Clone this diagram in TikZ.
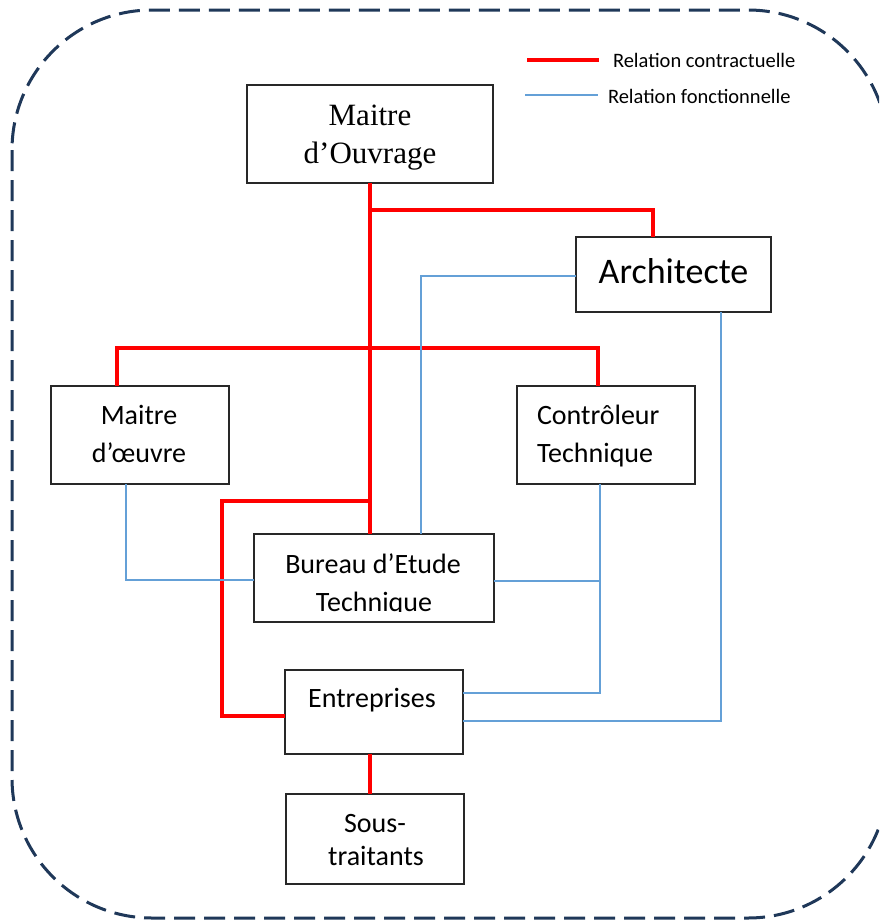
\documentclass[tikz,border=0pt]{standalone}
\usepackage{fontspec}
\setmainfont{Carlito}
\newfontfamily\serifmo{Liberation Serif}
\usetikzlibrary{calc}
\definecolor{navyb}{RGB}{31,56,89}
\definecolor{funcblue}{RGB}{100,160,215}
\definecolor{boxline}{RGB}{40,40,40}
\begin{document}
\begin{tikzpicture}[x=1pt,y=-1pt,
  box/.style={draw=boxline,line width=1.4pt,fill=white,inner sep=0pt,outer sep=0pt},
  contract/.style={draw=red,line width=4pt},
  func/.style={draw=funcblue,line width=1.2pt},
  txt/.style={inner sep=0pt,outer sep=0pt,font=\fontsize{28}{34}\selectfont},
  legtxt/.style={inner sep=0pt,outer sep=0pt,font=\fontsize{20.5}{24}\selectfont}]
\clip (0,0) rectangle (879,921);
\fill[white] (0,0) rectangle (879,921);
% border
\draw[navyb,line width=3pt,dash pattern=on 21pt off 9pt,rounded corners=140pt] (12,10) rectangle (888,918);

% coordinates for connectors
\coordinate (j1) at (370,210);
\coordinate (a1) at (653,210);
\coordinate (h1) at (117,348);
\coordinate (h2) at (598,348);
\coordinate (e0) at (370,501);
\coordinate (e1) at (222,501);
\coordinate (e2) at (222,716);
\coordinate (b1) at (126,580);
\coordinate (b2) at (421,276);
\coordinate (b3) at (600,581);
\coordinate (b4) at (600,693);
\coordinate (b5) at (721,721);

% boxes
\node[box,minimum width=246pt,minimum height=98pt] (mo) at (370,134) {};
\node[box,minimum width=195pt,minimum height=75pt] (arch) at (673.5,274.5) {};
\node[box,minimum width=178pt,minimum height=98pt] (mdo) at (140,435) {};
\node[box,minimum width=178pt,minimum height=98pt] (ct) at (606,435) {};
\node[box,minimum width=240pt,minimum height=88pt] (bet) at (374,578) {};
\node[box,minimum width=178pt,minimum height=84pt] (ent) at (374,712) {};
\node[box,minimum width=178pt,minimum height=90pt] (st) at (375,839) {};

% contractual relations
\draw[contract] (mo.south) -- (mo.south |- bet.north);
\draw[contract] (j1) -- (a1) -- (a1 |- arch.north);
\draw[contract] (h1 |- mdo.north) -- (h1) -- (h2) -- (h2 |- ct.north);
\draw[contract] (e0) -- (e1) -- (e2) -- (e2 -| ent.west);
\draw[contract] (ent.south -| mo.south) -- (st.north -| mo.south);

% functional relations
\draw[func] (b1 |- mdo.south) -- (b1) -- (b1 -| bet.west);
\draw[func] (arch.west |- b2) -- (b2) -- (b2 |- bet.north);
\draw[func] (b3 -| bet.east) -- (b3);
\draw[func] (b4 |- ct.south) -- (b4) -- (b4 -| ent.east);
\draw[func] (b5 |- arch.south) -- (b5) -- (b5 -| ent.east);

% texts
\node[inner sep=0pt,anchor=base,font=\serifmo\fontsize{31}{36}\selectfont] (mo1) at (370,125) {Maitre};
\node[inner sep=0pt,anchor=base,font=\serifmo\fontsize{31}{36}\selectfont] (mo2) at (370,163) {d’Ouvrage};
\node[inner sep=0pt,anchor=base,font=\fontsize{36}{42}\selectfont] (arch1) at (673.5,283) {Architecte};
\node[txt,anchor=base] (mdo1) at (139,424) {Maitre};
\node[txt,anchor=base] (mdo2) at (139,462) {d’œuvre};
\node[txt,anchor=base west] (ct1) at (537,424) {Contrôleur};
\node[txt,anchor=base west] (ct2) at (537,462) {Technique};
\begin{scope}
\clip (254,534) rectangle (494,611);
\node[txt,anchor=base] (bet1) at (373,573) {Bureau d’Etude};
\node[txt,anchor=base] (bet2) at (374,611) {Technique};
\end{scope}
\node[txt,anchor=base] (ent1) at (372,707) {Entreprises};
\node[txt,anchor=base] (st1) at (375,832) {Sous-};
\node[txt,anchor=base] (st2) at (376,865) {traitants};

% legend
\coordinate (l1a) at (527,60);
\coordinate (l1b) at (599,60);
\coordinate (l2a) at (525,95);
\coordinate (l2b) at (598,95);
\draw[contract] (l1a) -- (l1b);
\draw[func] (l2a) -- (l2b);
\node[legtxt,anchor=base west] (leg1) at (613,67) {Relation contractuelle};
\node[legtxt,anchor=base west] (leg2) at (608,103) {Relation fonctionnelle};
\end{tikzpicture}
\end{document}
